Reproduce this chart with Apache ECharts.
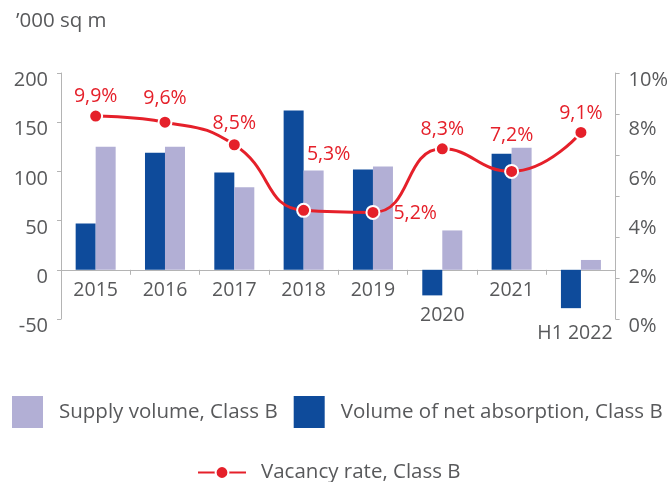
<!DOCTYPE html>
<html>
<head>
<meta charset="utf-8">
<script src="https://cdn.jsdelivr.net/npm/echarts@6/dist/echarts.min.js"></script>
<style>
  html, body { margin: 0; padding: 0; background: #fff; }
  #chart { width: 671px; height: 482px; }
</style>
</head>
<body>
<div id="chart"></div>
<script>
var categories = ['2015', '2016', '2017', '2018', '2019', '2020', '2021', 'H1 2022'];
var absorption = [47, 119, 99, 162, 102, -26, 118, -39];
var supply = [125, 125, 84, 101, 105, 40, 124, 10];
var vacancy = [9.9, 9.6, 8.5, 5.3, 5.2, 8.3, 7.2, 9.1];

(function(){
  var el = document.getElementById('chart');
  var c = echarts.init(el);
  var txt = '#58595b';
  var axisCol = '#b4b4b4';
  var red = '#e5202a';
  var dark = '#0e4b9b';
  var light = '#b2afd5';
  var font = '"Open Sans", Lato, sans-serif';

  // where each vacancy label sits relative to its point
  var labelPlace = [
    {}, {offset:[0,-4]}, {offset:[0,-2]}, {offset:[25,-36]},
    {position:'right', offset:[11,1]}, {}, {offset:[0,-16]}, {}
  ];

  function shifted(v){ return '{a|' + v + '}'; }

  c.setOption({
    animation: false,
    textStyle: {fontFamily: font},
    title: {text: '\u2019000 sq m', left: 11, top: 6,
      textStyle: {color: txt, fontSize: 20.5, fontWeight: 'normal', fontFamily: font}},
    grid: {left: 61, right: 52, top: 73, bottom: 163},
    legend: [
      {left: 12, top: 396, padding: 0, itemWidth: 31, itemHeight: 32, itemGap: 16,
        icon: 'rect',
        data: ['Supply volume, Class B', 'Volume of net absorption, Class B'],
        textStyle: {color: txt, fontSize: 20.5, padding: [0,0,0,11], fontFamily: font}},
      {left: 197, top: 462, padding: 0, itemWidth: 48, itemHeight: 16,
        data: ['Vacancy rate, Class B'],
        textStyle: {color: txt, fontSize: 20.5, padding: [0,0,0,10], fontFamily: font}}
    ],
    xAxis: {
      type: 'category', data: categories,
      axisLine: {onZero: true, lineStyle: {color: axisCol, width: 1}},
      axisTick: {show: true, length: 5, lineStyle: {color: axisCol}},
      axisLabel: {
        color: txt, fontSize: 19.5, margin: -39, interval: 0,
        formatter: function(v){
          if (v === '2020') return '{mid|' + v + '}';
          if (v === 'H1 2022') return '{low|H1 2022}';
          return v;
        },
        rich: {
          mid: {color: txt, fontSize: 19.5, padding: [25,0,0,0], fontFamily: font},
          low: {color: txt, fontSize: 19.5, padding: [43,12,0,0], fontFamily: font}
        }
      }
    },
    yAxis: [
      {type: 'value', min: -50, max: 200, interval: 50, position: 'left',
        axisLine: {show: true, lineStyle: {color: axisCol}},
        axisTick: {show: true, length: 4, lineStyle: {color: axisCol}},
        splitLine: {show: false},
        axisLabel: {color: txt, fontSize: 20, margin: 13, formatter: shifted,
          rich: {a: {color: txt, fontSize: 20, padding: [15,0,0,0], fontFamily: font}}}},
      {type: 'value', min: 0, max: 12, interval: 2, position: 'right',
        axisLine: {show: true, lineStyle: {color: axisCol}},
        axisTick: {show: true, length: 4, lineStyle: {color: axisCol}},
        splitLine: {show: false},
        axisLabel: {show: false}},
      {type: 'value', min: -50, max: 200, interval: 50, position: 'right',
        axisLine: {show: false}, axisTick: {show: false}, splitLine: {show: false},
        axisLabel: {color: txt, fontSize: 20, margin: 13,
          formatter: function(v){ return shifted(((v + 50) / 25) + '%'); },
          rich: {a: {color: txt, fontSize: 20, padding: [15,0,0,0], fontFamily: font}}}}
    ],
    series: [
      {name: 'Volume of net absorption, Class B', type: 'bar', yAxisIndex: 0,
        data: absorption, barWidth: 20, barGap: '0%',
        itemStyle: {color: dark}},
      {name: 'Supply volume, Class B', type: 'bar', yAxisIndex: 0,
        data: supply, barWidth: 20,
        itemStyle: {color: light}},
      {name: 'Vacancy rate, Class B', type: 'line', yAxisIndex: 1,
        smooth: true, symbol: 'circle', symbolSize: 13,
        lineStyle: {color: red, width: 3},
        itemStyle: {color: red, borderColor: '#fff', borderWidth: 2},
        label: {show: true, position: 'top', distance: 2, color: red, fontSize: 19.5,
          fontFamily: font,
          formatter: function(p){ return String(p.value).replace('.', ',') + '%'; }},
        data: vacancy.map(function(v, i){
          var lp = labelPlace[i];
          var d = {value: v};
          if (lp.offset || lp.position) d.label = lp;
          return d;
        }),
        z: 5}
    ]
  });
  window.addEventListener('resize', function(){ c.resize(); });
})();
</script>
</body>
</html>
